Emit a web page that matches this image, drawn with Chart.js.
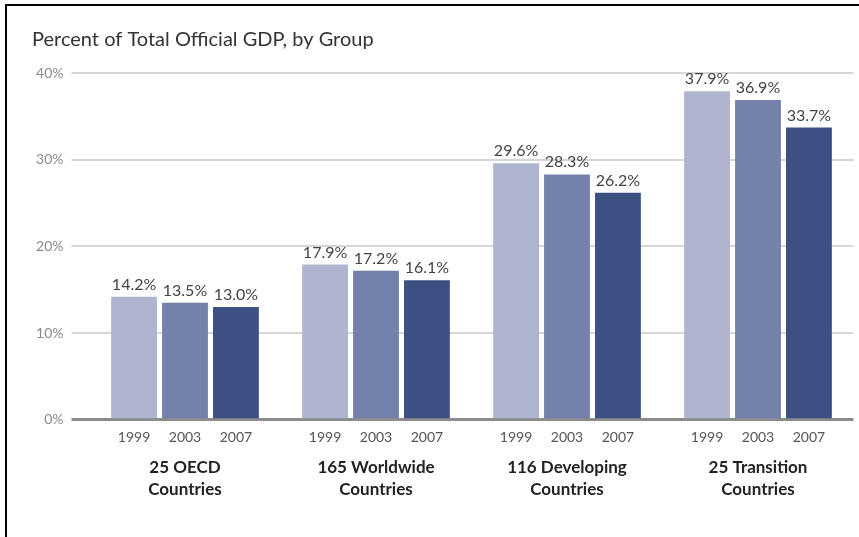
<!DOCTYPE html>
<html lang="en">
<head>
    <meta charset="UTF-8">
    <title>Percent of Total Official GDP, by Group</title>
    <script src="https://cdn.jsdelivr.net/npm/chart.js"></script>
    <style>
        html, body {
            margin: 0;
            padding: 0;
            background: #ffffff;
            overflow: hidden;
        }
        .frame {
            position: absolute;
            left: 5px;
            top: 4px;
            width: 852px;
            height: 540px;
            border-top: 2px solid #000;
            border-left: 2px solid #000;
            pointer-events: none;
        }
        canvas {
            position: absolute;
            left: 0;
            top: 0;
        }
    </style>
</head>
<body>
    <canvas id="gdpChart" width="859" height="537"></canvas>
    <div class="frame"></div>
    <script>
        // data
        const groups = [
            ["25 OECD", "Countries"],
            ["165 Worldwide", "Countries"],
            ["116 Developing", "Countries"],
            ["25 Transition", "Countries"]
        ];
        const years = ["1999", "2003", "2007"];
        const share1999 = [14.2, 17.9, 29.6, 37.9];
        const share2003 = [13.5, 17.2, 28.3, 36.9];
        const share2007 = [13.0, 16.1, 26.2, 33.7];
        const yTicks = [0, 10, 20, 30, 40];

        const colors = ["#afb5cf", "#7581ad", "#3d5083"];
        const fontFamily = "Lato, 'Open Sans', sans-serif";

        // draws value labels on top of bars and year labels under them
        const barLabels = {
            id: "barLabels",
            afterDatasetsDraw(chart) {
                const ctx = chart.ctx;
                const bottom = chart.chartArea.bottom;
                ctx.save();
                ctx.textAlign = "center";
                chart.data.datasets.forEach((ds, i) => {
                    const meta = chart.getDatasetMeta(i);
                    meta.data.forEach((bar, j) => {
                        ctx.fillStyle = "#444";
                        ctx.font = "16px " + fontFamily;
                        ctx.textBaseline = "alphabetic";
                        ctx.fillText(ds.data[j].toFixed(1) + "%", bar.x, bar.y - 7);
                        ctx.fillStyle = "#555";
                        ctx.font = "14px " + fontFamily;
                        ctx.textBaseline = "middle";
                        ctx.fillText(ds.label, bar.x, bottom + 18);
                    });
                });
                ctx.restore();
            }
        };

        const ctx = document.getElementById("gdpChart").getContext("2d");
        new Chart(ctx, {
            type: "bar",
            data: {
                labels: groups,
                datasets: [
                    { label: years[0], data: share1999, backgroundColor: colors[0] },
                    { label: years[1], data: share2003, backgroundColor: colors[1] },
                    { label: years[2], data: share2007, backgroundColor: colors[2] }
                ]
            },
            options: {
                responsive: false,
                animation: false,
                layout: {
                    padding: { left: 32, right: 5.5, top: 0, bottom: -1 }
                },
                datasets: {
                    bar: {
                        categoryPercentage: 0.8,
                        barPercentage: 0.9
                    }
                },
                plugins: {
                    legend: { display: false },
                    tooltip: { enabled: false },
                    title: {
                        display: true,
                        text: "Percent of Total Official GDP, by Group",
                        align: "start",
                        color: "#333",
                        font: { family: fontFamily, size: 20, weight: "normal" },
                        padding: { top: 28, bottom: 21 }
                    }
                },
                scales: {
                    x: {
                        grid: { display: false, drawTicks: false },
                        border: { display: false },
                        ticks: {
                            color: "#222",
                            padding: 37,
                            font: { family: fontFamily, size: 17, weight: "bold", lineHeight: 1.3 }
                        }
                    },
                    y: {
                        min: 0,
                        max: 40,
                        afterFit(scale) { scale.width = 57.5; },
                        afterBuildTicks(scale) {
                            scale.ticks = yTicks.map(v => ({ value: v }));
                        },
                        border: { display: false },
                        grid: {
                            drawTicks: true,
                            tickLength: 18,
                            color: ctx => ctx.tick && ctx.tick.value === 0 ? "#8c8c8c" : "#d6d6d6",
                            lineWidth: ctx => ctx.tick && ctx.tick.value === 0 ? 3 : 2
                        },
                        ticks: {
                            padding: 8,
                            color: "#8a8a8a",
                            font: { family: fontFamily, size: 14 },
                            callback: v => v + "%"
                        }
                    }
                }
            },
            plugins: [barLabels]
        });
    </script>
</body>
</html>
